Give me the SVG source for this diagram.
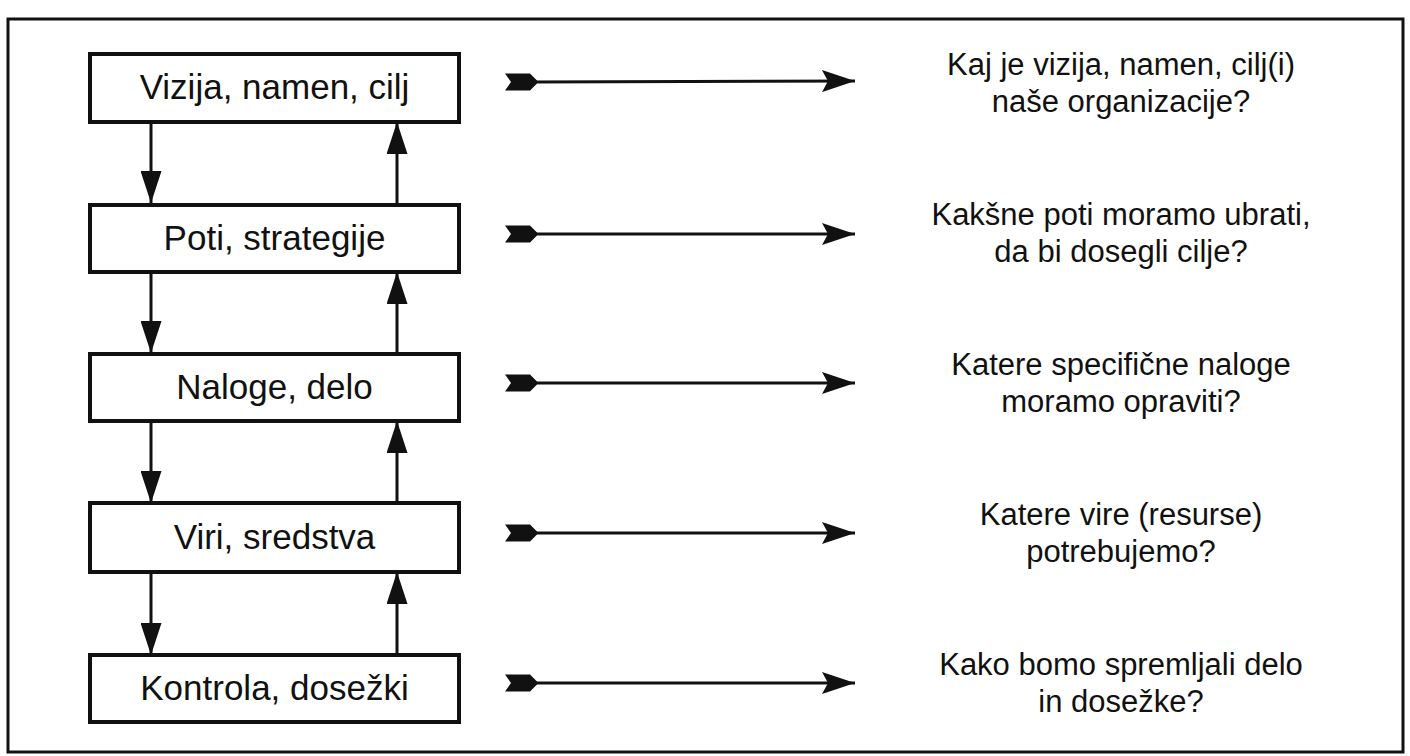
<svg xmlns="http://www.w3.org/2000/svg" width="1410" height="756" viewBox="0 0 1410 756">
<defs>
<style>
.frame{fill:none;stroke:#111;stroke-width:3}
.box{fill:#fff;stroke:#111;stroke-width:4}
.lbl{font-family:"Liberation Sans",Arial,sans-serif;font-size:35px;fill:#111;text-anchor:middle}
.q{font-family:"Liberation Sans",Arial,sans-serif;font-size:31px;fill:#111;text-anchor:middle}
.ln{stroke:#111;stroke-width:3;fill:none}
.hd{fill:#111}
</style>
<marker id="vh" markerWidth="32" markerHeight="21" refX="32" refY="10.5" viewBox="0 0 32 21" markerUnits="userSpaceOnUse" orient="auto">
<path d="M0,0 L32,10.5 L0,21 Z" class="hd"/>
</marker>
<marker id="hh" markerWidth="33" markerHeight="22" refX="33" refY="11" viewBox="0 0 33 22" markerUnits="userSpaceOnUse" orient="auto">
<path d="M0,0 L33,11 L0,22 L6,11 Z" class="hd"/>
</marker>
<path id="tail" d="M0,-8.5 L25,-8.5 L32,-1.5 L32,1.5 L25,8.5 L0,8.5 L6,0 Z" class="hd"/>
</defs>
<rect width="1410" height="756" fill="#fff"/>
<rect class="frame" x="8" y="19" width="1395" height="733"/>

<g id="connectors">
<line class="ln" x1="151" y1="122" x2="151" y2="203" marker-end="url(#vh)"/>
<line class="ln" x1="151" y1="272" x2="151" y2="353" marker-end="url(#vh)"/>
<line class="ln" x1="151" y1="421" x2="151" y2="503" marker-end="url(#vh)"/>
<line class="ln" x1="151" y1="572" x2="151" y2="655" marker-end="url(#vh)"/>
<line class="ln" x1="397" y1="205" x2="397" y2="122" marker-end="url(#vh)"/>
<line class="ln" x1="397" y1="354" x2="397" y2="272" marker-end="url(#vh)"/>
<line class="ln" x1="397" y1="503" x2="397" y2="421" marker-end="url(#vh)"/>
<line class="ln" x1="397" y1="655" x2="397" y2="572" marker-end="url(#vh)"/>

<g id="h1"><use href="#tail" x="505" y="82"/><line class="ln" x1="534" y1="82" x2="855" y2="81" marker-end="url(#hh)"/></g>
<g id="h2"><use href="#tail" x="505" y="234"/><line class="ln" x1="534" y1="234" x2="855" y2="234" marker-end="url(#hh)"/></g>
<g id="h3"><use href="#tail" x="505" y="383"/><line class="ln" x1="534" y1="383" x2="855" y2="383" marker-end="url(#hh)"/></g>
<g id="h4"><use href="#tail" x="505" y="533"/><line class="ln" x1="534" y1="533" x2="855" y2="533" marker-end="url(#hh)"/></g>
<g id="h5"><use href="#tail" x="505" y="683"/><line class="ln" x1="534" y1="683" x2="855" y2="683" marker-end="url(#hh)"/></g>
</g>

<g id="n1"><rect class="box" x="90" y="54" width="369" height="68"/><text class="lbl" x="274.5" y="99">Vizija, namen, cilj</text></g>
<g id="n2"><rect class="box" x="90" y="205" width="369" height="67"/><text class="lbl" x="274.5" y="250">Poti, strategije</text></g>
<g id="n3"><rect class="box" x="90" y="354" width="369" height="67"/><text class="lbl" x="274.5" y="399">Naloge, delo</text></g>
<g id="n4"><rect class="box" x="90" y="503" width="369" height="69"/><text class="lbl" x="274.5" y="549">Viri, sredstva</text></g>
<g id="n5"><rect class="box" x="90" y="655" width="369" height="67"/><text class="lbl" x="274.5" y="700">Kontrola, dosežki</text></g>

<g id="q1"><text class="q" x="1121" y="75">Kaj je vizija, namen, cilj(i)</text><text class="q" x="1121" y="112">naše organizacije?</text></g>
<g id="q2"><text class="q" x="1121" y="225">Kakšne poti moramo ubrati,</text><text class="q" x="1121" y="262">da bi dosegli cilje?</text></g>
<g id="q3"><text class="q" x="1121" y="375">Katere specifične naloge</text><text class="q" x="1121" y="412">moramo opraviti?</text></g>
<g id="q4"><text class="q" x="1121" y="525">Katere vire (resurse)</text><text class="q" x="1121" y="562">potrebujemo?</text></g>
<g id="q5"><text class="q" x="1121" y="675">Kako bomo spremljali delo</text><text class="q" x="1121" y="712">in dosežke?</text></g>
</svg>
